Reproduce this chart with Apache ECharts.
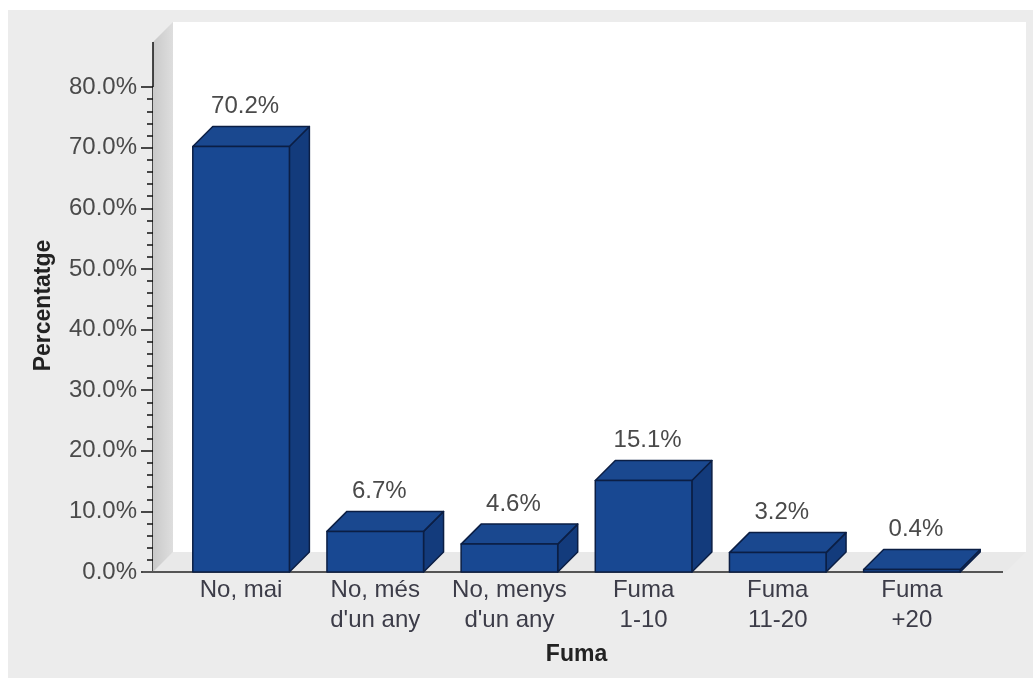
<!DOCTYPE html>
<html>
<head>
<meta charset="utf-8">
<script src="https://cdn.jsdelivr.net/npm/echarts@6/dist/echarts.min.js"></script>
<style>
  html, body { margin: 0; padding: 0; background: #ffffff; width: 1033px; height: 678px; overflow: hidden; }
  #chart { position: absolute; left: 8px; top: 10px; width: 1025px; height: 668px; }
</style>
</head>
<body>
<div id="chart"></div>
<script>
// Smoking habit categories and the share of respondents in each
const categories = ['No, mai', "No, més\nd'un any", "No, menys\nd'un any", 'Fuma\n1-10', 'Fuma\n11-20', 'Fuma\n+20'];
const percentages = [70.2, 6.7, 4.6, 15.1, 3.2, 0.4];
const yMin = 0;
const yMax = 80;
const yStep = 10;
const xTitle = 'Fuma';
const yTitle = 'Percentatge';

// Pseudo-3D look: depth of the bars / floor / side wall in pixels
const DEPTH = 20;
const AXIS_OFFSET = 21;
const FONT = '"Liberation Sans", Arial, Helvetica, sans-serif';

const chart = echarts.init(document.getElementById('chart'));

// Back wall, side wall, floor and the axis lines that frame the plot
function renderFrame(params, api) {
  const cs = params.coordSys;
  const ax = cs.x - AXIS_OFFSET;          // front vertical axis
  const base = api.coord([0, yMin])[1];   // floor front edge (value 0)
  const top = cs.y - 45;                  // top of the side wall
  const backRight = cs.x + cs.width + 47;
  const axisEnd = cs.x + cs.width + 24;
  return {
    type: 'group',
    children: [
      { type: 'rect', shape: { x: ax + DEPTH, y: top - DEPTH, width: backRight - ax - DEPTH, height: base - top },
        style: { fill: '#ffffff' } },
      { type: 'polygon', shape: { points: [[ax, base], [ax + DEPTH, base - DEPTH], [backRight, base - DEPTH], [backRight - DEPTH, base]] },
        style: { fill: '#e9e9e9' } },
      { type: 'polygon', shape: { points: [[ax, top], [ax + DEPTH, top - DEPTH], [ax + DEPTH, base - DEPTH], [ax, base]] },
        style: { fill: new echarts.graphic.LinearGradient(0, 0, 1, 0, [
          { offset: 0, color: '#c9c9c9' }, { offset: 1, color: '#dedede' }]) } },
      { type: 'line', shape: { x1: ax, y1: top, x2: ax, y2: cs.y },
        style: { stroke: '#111111', lineWidth: 1.5 } },
      { type: 'line', shape: { x1: ax - 10, y1: base, x2: axisEnd, y2: base },
        style: { stroke: '#555555', lineWidth: 2 } }
    ]
  };
}

// Each bar as a front face, a top face and a right side face
function renderBar(params, api) {
  const i = api.value(0);
  const v = api.value(1);
  const tp = api.coord([i, v]);
  const bp = api.coord([i, yMin]);
  const w = api.size([1, 0])[0] * 0.72;
  const x0 = tp[0] - w / 2;
  const x1 = tp[0] + w / 2;
  const yT = tp[1];
  const yB = bp[1];
  const stroke = { stroke: '#0b1e44', lineWidth: 1.5, lineJoin: 'round' };
  return {
    type: 'group',
    children: [
      { type: 'polygon', shape: { points: [[x1, yB], [x1 + DEPTH, yB - DEPTH], [x1 + DEPTH, yT - DEPTH], [x1, yT]] },
        style: Object.assign({ fill: '#133b7c' }, stroke) },
      { type: 'polygon', shape: { points: [[x0, yT], [x0 + DEPTH, yT - DEPTH], [x1 + DEPTH, yT - DEPTH], [x1, yT]] },
        style: Object.assign({ fill: '#1a488f' }, stroke) },
      { type: 'rect', shape: { x: x0, y: yT, width: w, height: yB - yT },
        style: Object.assign({ fill: '#184892' }, stroke) },
      { type: 'text', x: tp[0] + 4, y: yT - DEPTH - 20,
        style: { text: v.toFixed(1) + '%', fill: '#4a4a4a', font: '24px ' + FONT, align: 'center', verticalAlign: 'middle' } }
    ]
  };
}

chart.setOption({
  backgroundColor: '#ececec',
  animation: false,
  grid: { left: 166, right: 54, top: 77, bottom: 106 },
  xAxis: {
    type: 'category',
    data: categories,
    name: xTitle,
    nameLocation: 'middle',
    nameGap: 71,
    nameTextStyle: { fontFamily: FONT, fontSize: 23, fontWeight: 'bold', color: '#222222' },
    axisLine: { show: false },
    axisTick: { show: false },
    axisLabel: { fontFamily: FONT, fontSize: 24, color: '#3c3c48', lineHeight: 30, margin: 3, interval: 0 }
  },
  yAxis: {
    type: 'value',
    min: yMin,
    max: yMax,
    interval: yStep,
    offset: AXIS_OFFSET,
    name: yTitle,
    nameLocation: 'middle',
    nameGap: 98,
    nameRotate: 90,
    nameTextStyle: { fontFamily: FONT, fontSize: 23, fontWeight: 'bold', color: '#222222', padding: [0, 0, 0, 48] },
    axisLine: { show: true, lineStyle: { color: '#111111', width: 1.5 } },
    axisTick: { show: true, length: 12, lineStyle: { color: '#111111', width: 1.5 } },
    minorTick: { show: true, splitNumber: 5, length: 6, lineStyle: { color: '#111111', width: 1.5 } },
    splitLine: { show: false },
    axisLabel: { fontFamily: FONT, fontSize: 24, color: '#4a4a4a', margin: 16,
      formatter: (val) => val.toFixed(1) + '%' }
  },
  series: [
    { type: 'custom', renderItem: renderFrame, data: [[0, 0]], z: 1, silent: true },
    { type: 'custom', renderItem: renderBar, data: percentages.map((v, i) => [i, v]), z: 2 }
  ]
});
</script>
</body>
</html>
